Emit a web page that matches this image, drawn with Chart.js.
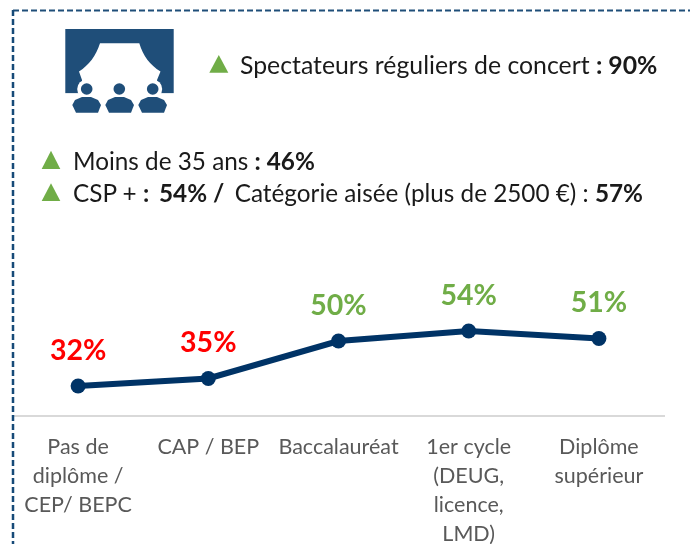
<!DOCTYPE html>
<html><head><meta charset="utf-8">
<script src="https://cdn.jsdelivr.net/npm/chart.js@4"></script>
<style>
html,body{margin:0;padding:0;background:#fff;width:690px;height:544px;overflow:hidden}
#wrap{position:relative;width:690px;height:544px}
canvas{position:absolute;left:0;top:0}
.t{position:absolute;font-family:Lato,sans-serif;color:#1a1a1a;white-space:pre;line-height:28px}
.t b{font-weight:700}
svg{position:absolute;left:0;top:0}
</style></head><body>
<div id="wrap">
<canvas id="c" width="690" height="544"></canvas>
<svg width="690" height="544" viewBox="0 0 690 544">
<line x1="13" y1="10.5" x2="690" y2="10.5" stroke="#1f4e79" stroke-width="2" stroke-dasharray="6 3"/>
<line x1="13" y1="10" x2="13" y2="544" stroke="#164a78" stroke-width="2.5" stroke-dasharray="6 3"/>
<rect x="65.3" y="29" width="108.4" height="64.3" fill="#1f4e79"/>
<path fill="#fff" d="M100 43.3H139.3C143 56 150 65 160.5 71.5L157 80V94H82V80L79 71.5C89 65 96 56 100 43.3Z"/>
<g fill="#fff"><circle cx="86.7" cy="89" r="9.5"/><circle cx="119.3" cy="89" r="9.5"/><circle cx="152.7" cy="89" r="9.5"/></g>
<rect x="65" y="93.4" width="110" height="6" fill="#fff"/>
<g fill="#1f4e79"><circle cx="86.7" cy="89" r="5.8"/><circle cx="119.3" cy="89" r="5.8"/><circle cx="152.7" cy="89" r="5.8"/>
<path d="M72.3 105L75 100L82 97H91L98 100L101 105L98 112.7H76Z"/>
<path d="M105.3 105L108 100L115 97H124L131 100L134 105L131 112.7H109Z"/>
<path d="M138.3 105L141 100L148 97H157L164 100L167 105L164 112.7H142Z"/></g>
<g fill="#70ad47"><path d="M209.3 72.7L218.8 55L228.3 72.7Z"/><path d="M41.7 169L51 150.7L60.3 169Z"/><path d="M41.7 201L51 183.3L60.3 201Z"/></g>
</svg>
<div class="t" style="left:240px;top:51px;font-size:24.8px">Spectateurs réguliers de concert <b>: 90%</b></div>
<div class="t" style="left:73px;top:147px;font-size:24.3px">Moins de 35 ans <b>: 46%</b></div>
<div class="t" style="left:73px;top:179px;font-size:24.3px">CSP + <b>: <span style="margin-left:-2px"> 54% /</span></b><span style="margin-left:-2px">  Catégorie aisée (plus de 2500 €) : </span><b>57%</b></div>
</div>
<script>
const categories = [["Pas de","diplôme /","CEP/ BEPC"],"CAP / BEP","Baccalauréat",["1er cycle","(DEUG,","licence,","LMD)"],["Diplôme","supérieur"]];
const values = [32,35,50,54,51];
const labelColors = ["#ff0000","#ff0000","#70ad47","#70ad47","#70ad47"];
const pointLabels = {
  id:"pointLabels",
  afterDatasetsDraw(chart){
    const ctx=chart.ctx, meta=chart.getDatasetMeta(0);
    ctx.save();
    ctx.font="700 28.5px Lato, sans-serif";
    ctx.textAlign="center";ctx.textBaseline="alphabetic";
    meta.data.forEach((p,i)=>{
      ctx.fillStyle=labelColors[i];
      ctx.fillText(values[i]+"%",p.x,p.y-26.5);
    });
    ctx.restore();
  }
};
new Chart(document.getElementById("c"),{
  type:"line",
  data:{labels:categories,datasets:[{data:values,borderColor:"#003366",backgroundColor:"#003366",borderWidth:6,pointRadius:7.5,pointHoverRadius:7.5,pointBackgroundColor:"#003366",pointBorderWidth:0,tension:0,clip:false}]},
  options:{
    responsive:false,animation:false,
    layout:{padding:{left:13,right:26,top:216,bottom:0}},
    plugins:{legend:{display:false},tooltip:{enabled:false}},
    scales:{
      y:{display:false,min:20,max:100},
      x:{
        offset:true,
        afterFit(s){s.height=128;},
        grid:{display:false,drawTicks:false,offset:true},
        border:{display:true,color:"#d9d9d9",width:2},
        ticks:{autoSkip:false,maxRotation:0,minRotation:0,padding:16,color:"#595959",font:{family:"Lato, sans-serif",size:21.5,lineHeight:1.36}}
      }
    }
  },
  plugins:[pointLabels]
});
</script>
</body></html>
